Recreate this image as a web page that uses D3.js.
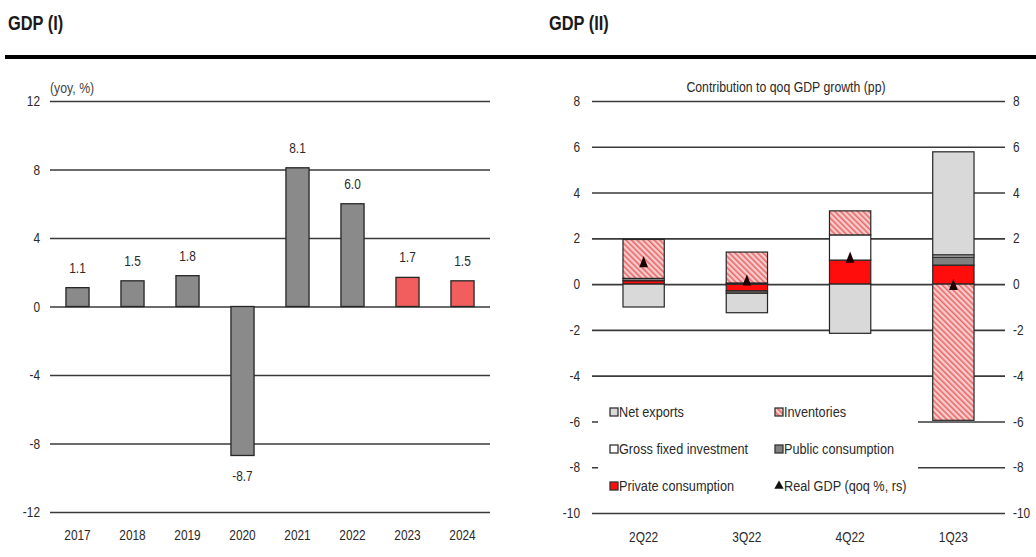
<!DOCTYPE html>
<html><head><meta charset="utf-8">
<script src="https://cdn.jsdelivr.net/npm/d3@7"></script>
<style>
html,body{margin:0;padding:0;background:#fff;}
svg{display:block;}
</style></head>
<body>
<svg id="c" width="1036" height="557"></svg>
<script>
// ---------- DATA ----------
const years = ["2017","2018","2019","2020","2021","2022","2023","2024"];
const gdpYoy = [1.1, 1.5, 1.8, -8.7, 8.1, 6.0, 1.7, 1.5];
const forecastYears = ["2023","2024"];
const leftTicks = [12, 8, 4, 0, -4, -8, -12];

const quarters = ["2Q22","3Q22","4Q22","1Q23"];
const privateConsumption = [0.15, -0.3, 1.05, 0.83];
const publicConsumption  = [0.1, -0.1, 0.0, 0.35];
const grossFixedInvestment = [0.0, 0.05, 1.1, 0.1];
const netExports  = [-1.0, -0.85, -2.15, 4.5];
const inventories = [1.7, 1.35, 1.05, -5.95];
const realGdpQoq  = [0.9, 0.1, 1.1, -0.1];
const rightTicks = [8, 6, 4, 2, 0, -2, -4, -6, -8, -10];

// ---------- SETUP ----------
const FONT = "'Liberation Sans',Arial,sans-serif";
const svg = d3.select("#c").style("font-family", FONT);
const defs = svg.append("defs");
const pat = defs.append("pattern").attr("id","hatch").attr("patternUnits","userSpaceOnUse")
  .attr("width",4).attr("height",4).attr("patternTransform","rotate(-45)");
pat.append("rect").attr("width",4).attr("height",4).attr("fill","#f8cccc");
pat.append("rect").attr("x",0).attr("y",0).attr("width",1.6).attr("height",4).attr("fill","#e66a6a");

const GRID = "#3a3a3a";
const EDGE = "#262626";
const TXT = "#2a2a2a";
const fmtInt = d => String(d);

// titles and rule
svg.append("text").attr("x",8).attr("y",30).attr("font-size",20).attr("font-weight","bold")
  .attr("fill","#1a1a1a").text("GDP (I)");
svg.append("text").attr("x",549).attr("y",30).attr("font-size",20).attr("font-weight","bold")
  .attr("fill","#1a1a1a").text("GDP (II)");
svg.append("line").attr("x1",5).attr("x2",1036).attr("y1",57).attr("y2",57)
  .attr("stroke","#000").attr("stroke-width",4);

// ---------- LEFT CHART ----------
const xL = d3.scaleBand().domain(years).range([50,490]).paddingInner(0.58).paddingOuter(0.29);
const yL = d3.scaleLinear().domain([-12,12]).range([512,101]);

const gL = svg.append("g");
const axL = gL.append("g").attr("transform","translate(50,0)")
  .call(d3.axisLeft(yL).tickValues(leftTicks).tickSize(-440).tickPadding(10).tickFormat(fmtInt));
axL.select(".domain").remove();
axL.selectAll(".tick line").attr("stroke",GRID).attr("stroke-width",1.6);
axL.selectAll(".tick text").attr("font-size",14.5).attr("fill",TXT).style("font-family",FONT);

gL.append("text").attr("x",50).attr("y",93).attr("font-size",15).attr("fill","#444").text("(yoy, %)");

const barsL = years.map((y,i)=>({year:y, v:gdpYoy[i]}));
gL.selectAll("rect.bar").data(barsL).join("rect").attr("class","bar")
  .attr("x",d=>xL(d.year)).attr("width",xL.bandwidth())
  .attr("y",d=>yL(Math.max(0,d.v))).attr("height",d=>Math.abs(yL(d.v)-yL(0)))
  .attr("fill",d=>forecastYears.includes(d.year)?"#f25d5d":"#8a8a8a")
  .attr("stroke",EDGE).attr("stroke-width",1.3);

gL.selectAll("text.lab").data(barsL).join("text").attr("class","lab")
  .attr("x",d=>xL(d.year)+xL.bandwidth()/2)
  .attr("y",d=>d.v>=0? yL(d.v)-20 : yL(d.v)+20)
  .attr("dy","0.35em").attr("text-anchor","middle").attr("font-size",14.5).attr("fill",TXT)
  .text(d=>d.v.toFixed(1));

const axLB = gL.append("g").attr("transform","translate(0,512)")
  .call(d3.axisBottom(xL).tickSize(0).tickPadding(18));
axLB.select(".domain").remove();
axLB.selectAll(".tick text").attr("font-size",14.5).attr("fill",TXT).style("font-family",FONT);

// ---------- RIGHT CHART ----------
const xR = d3.scaleBand().domain(quarters).range([592,1005]).paddingInner(0.6).paddingOuter(0.3);
const yR = d3.scaleLinear().domain([-10,8]).range([513,101]);
const gR = svg.append("g");

const axR = gR.append("g").attr("transform","translate(592,0)")
  .call(d3.axisLeft(yR).tickValues(rightTicks).tickSize(-413).tickPadding(12).tickFormat(fmtInt));
axR.select(".domain").remove();
axR.selectAll(".tick line").attr("stroke",GRID).attr("stroke-width",1.6);
axR.selectAll(".tick text").attr("font-size",14.5).attr("fill",TXT).style("font-family",FONT);

const axR2 = gR.append("g").attr("transform","translate(1005,0)")
  .call(d3.axisRight(yR).tickValues(rightTicks).tickSize(0).tickPadding(8).tickFormat(fmtInt));
axR2.select(".domain").remove();
axR2.selectAll(".tick text").attr("font-size",14.5).attr("fill",TXT).style("font-family",FONT);

gR.append("text").attr("x",786).attr("y",92).attr("text-anchor","middle").attr("font-size",15)
  .attr("fill",TXT).text("Contribution to qoq GDP growth (pp)");

// legend background (hides part of gridlines)
gR.append("rect").attr("x",598).attr("y",392).attr("width",320).attr("height",112).attr("fill","#fff");

// stacked bars
const keys = ["priv","pub","gfi","nx","inv"];
const fills = {priv:"#ff0d0d", pub:"#808080", gfi:"#ffffff", nx:"#d9d9d9", inv:"url(#hatch)"};
const rows = quarters.map((q,i)=>({q, priv:privateConsumption[i], pub:publicConsumption[i],
  gfi:grossFixedInvestment[i], nx:netExports[i], inv:inventories[i]}));
const series = d3.stack().keys(keys).offset(d3.stackOffsetDiverging)(rows);

gR.selectAll("g.ser").data(series).join("g").attr("class","ser")
  .attr("fill",s=>fills[s.key])
  .selectAll("rect").data(s=>s).join("rect")
  .attr("x",d=>xR(d.data.q)).attr("width",xR.bandwidth())
  .attr("y",d=>yR(d[1])).attr("height",d=>Math.max(0,yR(d[0])-yR(d[1])))
  .attr("stroke",EDGE).attr("stroke-width",1.2);

// real GDP triangles
const tri = d3.symbol().type(d3.symbolTriangle).size(46);
gR.selectAll("path.gdp").data(quarters.map((q,i)=>({q,v:realGdpQoq[i]}))).join("path").attr("class","gdp")
  .attr("d",tri)
  .attr("transform",d=>`translate(${xR(d.q)+xR.bandwidth()/2},${yR(d.v)}) scale(0.85,1.25)`)
  .attr("fill","#1e0000");

// legend
const legend = [
  {label:"Net exports", fill:fills.nx, col:0,row:0},
  {label:"Inventories", fill:"url(#hatch)", col:1,row:0},
  {label:"Gross fixed investment", fill:fills.gfi, col:0,row:1},
  {label:"Public consumption", fill:fills.pub, col:1,row:1},
  {label:"Private consumption", fill:fills.priv, col:0,row:2},
  {label:"Real GDP (qoq %, rs)", tri:true, col:1,row:2}
];
const colX = [610, 775], rowY = [412, 449, 486];
const lg = gR.append("g");
legend.forEach(d=>{
  const x = colX[d.col], y = rowY[d.row];
  if (d.tri) {
    lg.append("path").attr("d",d3.symbol().type(d3.symbolTriangle).size(38))
      .attr("transform",`translate(${x+4},${y})`).attr("fill","#111");
  } else {
    lg.append("rect").attr("x",x).attr("y",y-4).attr("width",8).attr("height",8)
      .attr("fill",d.fill).attr("stroke","#333").attr("stroke-width",1.3);
  }
  lg.append("text").attr("x",x+9).attr("y",y).attr("dy","0.35em").attr("font-size",15.5)
    .attr("fill",TXT).text(d.label);
});

const axRB = gR.append("g").attr("transform","translate(0,513)")
  .call(d3.axisBottom(xR).tickSize(0).tickPadding(19));
axRB.select(".domain").remove();
axRB.selectAll(".tick text").attr("font-size",14.5).attr("fill",TXT).style("font-family",FONT);

// narrow (condensed) appearance: compress every text horizontally around its anchor
svg.selectAll("text").each(function(){
  const a = getComputedStyle(this).textAnchor;
  const origin = a === "end" ? "right" : (a === "middle" ? "center" : "left");
  this.style.transformBox = "fill-box";
  this.style.transformOrigin = origin + " center";
  this.style.transform = "scaleX(0.82)";
});
</script>
</body></html>
